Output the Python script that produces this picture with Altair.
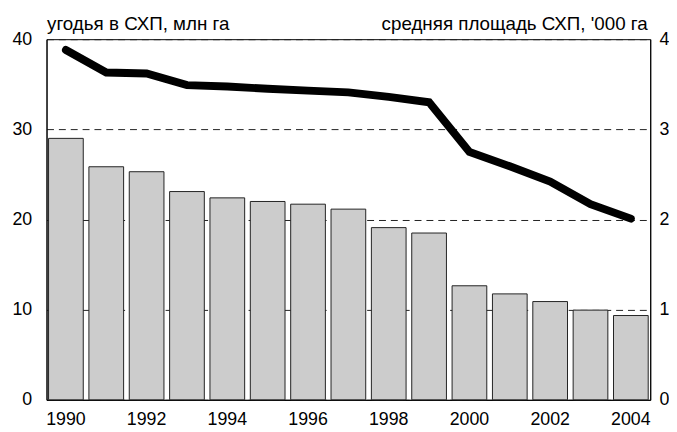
import altair as alt
import pandas as pd

years = list(range(1990, 2005))
land_mln_ha = [29.0, 25.85, 25.3, 23.1, 22.4, 22.0, 21.7, 21.15, 19.1, 18.5, 12.65, 11.75, 10.9, 9.95, 9.35]
avg_area_th_ha = [3.88, 3.63, 3.62, 3.49, 3.475, 3.45, 3.43, 3.41, 3.36, 3.30, 2.75, 2.59, 2.42, 2.17, 2.01]
left_ticks = [0, 10, 20, 30, 40]
right_ticks = [0, 1, 2, 3, 4]
year_labels = [1990, 1992, 1994, 1996, 1998, 2000, 2002, 2004]

df = pd.DataFrame({"year": years, "land": land_mln_ha, "avg": avg_area_th_ha})

FONT = "Liberation Sans"
LBL = 18
TTL = 19

x = alt.X(
    "year:O",
    scale=alt.Scale(paddingInner=0.14, paddingOuter=0.05),
    axis=alt.Axis(
        values=year_labels, title=None, labelAngle=0, tickSize=0, labelPadding=11,
        labelFontSize=LBL, labelColor="black", labelFont=FONT,
        domainColor="black", domainWidth=1, grid=False,
    ),
)

bars = alt.Chart(df).mark_bar(fill="#cccccc", stroke="#222222", strokeWidth=1).encode(
    x=x,
    y=alt.Y(
        "land:Q",
        scale=alt.Scale(domain=[0, 40], nice=False),
        axis=alt.Axis(
            values=left_ticks, title="угодья в СХП, млн га", titleAngle=0,
            titleX=0, titleY=-10, titleAlign="left", titleBaseline="alphabetic",
            titleFont=FONT, titleFontSize=TTL, titleFontWeight="normal", titleColor="black",
            labelFont=FONT, labelFontSize=LBL, labelColor="black", labelPadding=15,
            tickSize=0, domainColor="black", domainWidth=1,
            grid=True, gridColor="#222222", gridDash=[7, 5], gridWidth=1,
        ),
    ),
)

line = alt.Chart(df).mark_line(color="black", strokeWidth=8, strokeCap="round", strokeJoin="miter").encode(
    x=alt.X("year:O"),
    y=alt.Y(
        "avg:Q",
        scale=alt.Scale(domain=[0, 4], nice=False),
        axis=alt.Axis(
            orient="right", values=right_ticks, title="средняя площадь СХП, '000 га", titleAngle=0,
            titleX=-3, titleY=-10, titleAlign="right", titleBaseline="alphabetic",
            titleFont=FONT, titleFontSize=TTL, titleFontWeight="normal", titleColor="black",
            labelFont=FONT, labelFontSize=LBL, labelColor="black", labelPadding=9,
            tickSize=0, domainColor="black", domainWidth=1, grid=False,
        ),
    ),
)

chart = (
    alt.layer(bars, line)
    .resolve_scale(y="independent")
    .properties(
        width=611, height=365,
        autosize=alt.AutoSizeParams(type="none"),
        padding={"left": 39, "top": 29, "right": 19, "bottom": 30},
        background="white",
    )
    .configure_view(stroke="black", strokeWidth=1)
)

chart.save("out.html", embed_options={"renderer": "svg", "actions": False})
